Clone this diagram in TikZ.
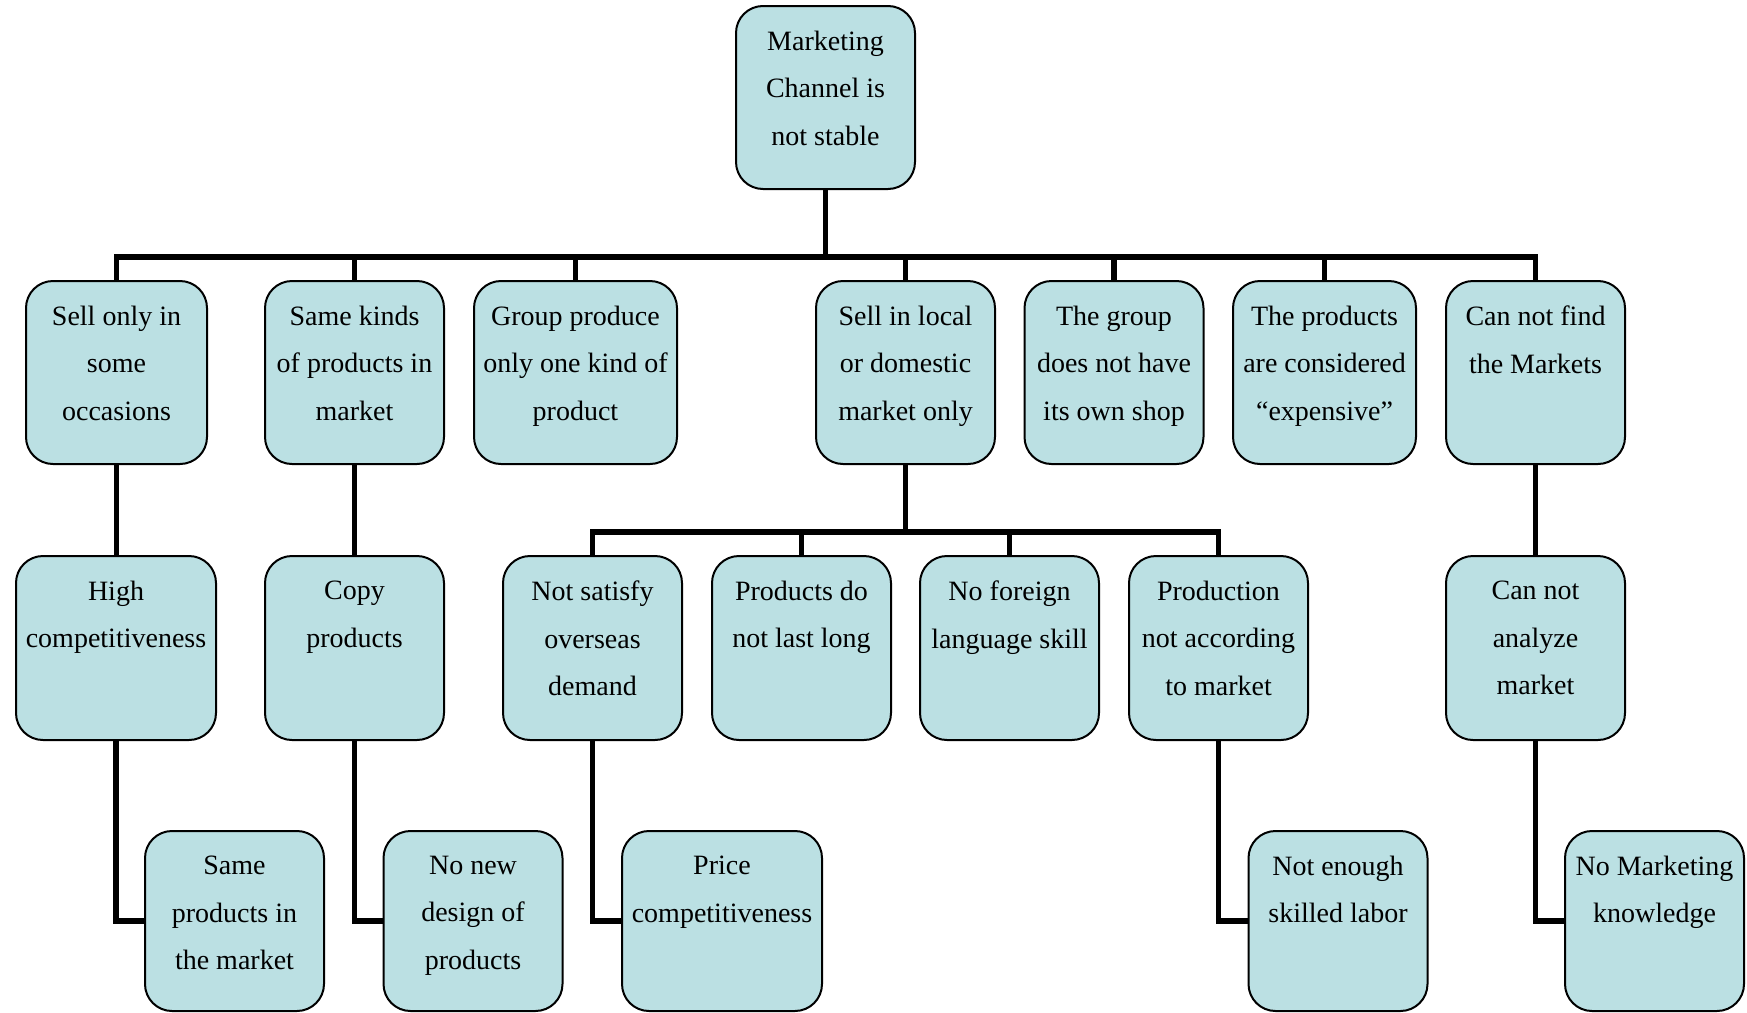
\documentclass[tikz,border=0pt]{standalone}
\usepackage{fontspec}
\setmainfont{Liberation Serif}
\definecolor{boxfill}{RGB}{187,224,227}
\tikzset{
  % invisible frame that fixes a box's place and size
  causebox/.style={rectangle, inner sep=0pt, outer sep=0pt, minimum height=183pt},
  boxframe/.style={draw=black, line width=2pt, fill=boxfill, rounded corners=27pt},
  boxtext/.style={anchor=north, align=center, inner sep=0pt, outer sep=0pt,
    font=\fontsize{28}{47.5}\selectfont, yshift=-25pt},
  link/.style={draw=black, line width=5.5pt, line join=miter}
}
\begin{document}
\begin{tikzpicture}[x=1pt, y=-1pt]
\useasboundingbox (0,0) rectangle (1747,1012);
\clip (0,0) rectangle (1747,1012);

% heights of the two horizontal buses
\coordinate (bus) at (0,257);
\coordinate (sub) at (0,532);

% box places and sizes
\node[causebox, minimum width=179pt] (root) at (825.5,97.5) {};

\node[causebox, minimum width=181pt] (a) at (116.5,372.5) {};
\node[causebox, minimum width=179pt] (b) at (354.5,372.5) {};
\node[causebox, minimum width=203pt] (c) at (575.5,372.5) {};
\node[causebox, minimum width=179pt] (d) at (905.5,372.5) {};
\node[causebox, minimum width=179pt] (e) at (1114,372.5) {};
\node[causebox, minimum width=183pt] (f) at (1324.5,372.5) {};
\node[causebox, minimum width=179pt] (g) at (1535.5,372.5) {};

\node[causebox, minimum width=200pt, minimum height=184pt] (h) at (116,648) {};
\node[causebox, minimum width=179pt, minimum height=184pt] (i) at (354.5,648) {};
\node[causebox, minimum width=179pt, minimum height=184pt] (j) at (592.5,648) {};
\node[causebox, minimum width=179pt, minimum height=184pt] (k) at (801.5,648) {};
\node[causebox, minimum width=179pt, minimum height=184pt] (o) at (1009.5,648) {};
\node[causebox, minimum width=179pt, minimum height=184pt] (p) at (1218.5,648) {};
\node[causebox, minimum width=179pt, minimum height=184pt] (q) at (1535.5,648) {};

\node[causebox, minimum width=179pt, minimum height=180pt] (l) at (234.5,921) {};
\node[causebox, minimum width=179pt, minimum height=180pt] (m) at (473,921) {};
\node[causebox, minimum width=200pt, minimum height=180pt] (n) at (722,921) {};
\node[causebox, minimum width=179pt, minimum height=180pt] (r) at (1338,921) {};
\node[causebox, minimum width=179pt, minimum height=180pt] (s) at (1654.5,921) {};

% connectors, drawn beneath the boxes
\path[link] (root.south) -- (root.south |- bus);
\path[link] (a.north) -- (a.north |- bus) -- (g.north |- bus) -- (g.north);
\foreach \n in {b,c,d,e,f} \path[link] (\n.north |- bus) -- (\n.north);

\path[link] (a.south) -- (a.south |- h.north);
\path[link] (b.south) -- (b.south |- i.north);
\path[link] (g.south) -- (g.south |- q.north);

\path[link] (d.south) -- (d.south |- sub);
\path[link] (j.north) -- (j.north |- sub) -- (p.north |- sub) -- (p.north);
\foreach \n in {k,o} \path[link] (\n.north |- sub) -- (\n.north);

\path[link] (h.south) |- (l.west);
\path[link] (i.south) |- (m.west);
\path[link] (j.south) |- (n.west);
\path[link] (p.south) |- (r.west);
\path[link] (q.south) |- (s.west);

% rounded boxes over the connector ends
\foreach \n in {root,a,b,c,d,e,f,g,h,i,j,k,o,p,q,l,m,n,r,s}
  \path[boxframe] (\n.north west) rectangle (\n.south east);

% texts, hanging from each box's top edge
\node[boxtext] (root-t) at (root.north) {Marketing\\Channel is\\not stable};

\node[boxtext] (a-t) at (a.north) {Sell only in\\some\\occasions};
\node[boxtext] (b-t) at (b.north) {Same kinds\\of products in\\market};
\node[boxtext] (c-t) at (c.north) {Group produce\\only one kind of\\product};
\node[boxtext] (d-t) at (d.north) {Sell in local\\or domestic\\market only};
\node[boxtext] (e-t) at (e.north) {The group\\does not have\\its own shop};
\node[boxtext] (f-t) at (f.north) {The products\\are considered\\“expensive”};
\node[boxtext] (g-t) at (g.north) {Can not find\\the Markets};

\node[boxtext] (h-t) at (h.north) {High\\competitiveness};
\node[boxtext] (i-t) at (i.north) {Copy\\products};
\node[boxtext] (j-t) at (j.north) {Not satisfy\\overseas\\demand};
\node[boxtext] (k-t) at (k.north) {Products do\\not last long};
\node[boxtext] (o-t) at (o.north) {No foreign\\language skill};
\node[boxtext] (p-t) at (p.north) {Production\\not according\\to market};
\node[boxtext] (q-t) at (q.north) {Can not\\analyze\\market};

\node[boxtext] (l-t) at (l.north) {Same\\products in\\the market};
\node[boxtext] (m-t) at (m.north) {No new\\design of\\products};
\node[boxtext] (n-t) at (n.north) {Price\\competitiveness};
\node[boxtext] (r-t) at (r.north) {Not enough\\skilled labor};
\node[boxtext] (s-t) at (s.north) {No Marketing\\knowledge};
\end{tikzpicture}
\end{document}
